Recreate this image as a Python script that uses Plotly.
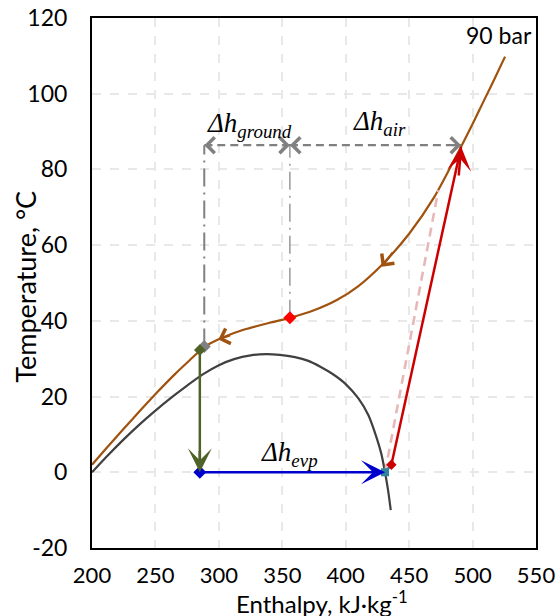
import plotly.graph_objects as go

# Saturation dome (h in kJ/kg, T in °C)
dome_h = [200, 212, 225, 238, 250, 262, 275, 287, 300, 312, 325, 337, 348, 360, 370, 380, 390, 400, 410, 418, 424, 428, 431, 433.5, 435.5]
dome_T = [0, 4.3, 8.7, 12.8, 16.3, 19.6, 22.9, 25.8, 28.3, 29.9, 30.9, 31.2, 31.0, 30.4, 29.5, 27.9, 25.9, 23.3, 19.5, 15.0, 9.5, 5.0, 0, -5, -10]

# 90 bar isobar
iso_h = [200, 212, 225, 238, 251, 265, 277, 289, 303, 320, 340, 356, 375, 393, 410, 430, 450, 470, 490, 500, 510, 518, 525.6]
iso_T = [2.0, 6.6, 11.5, 16.3, 21.0, 25.8, 29.6, 33.2, 35.6, 37.7, 39.5, 40.8, 42.8, 45.5, 49.2, 55.3, 63.0, 72.8, 85.4, 92.0, 98.9, 104.4, 109.8]

# Cycle state points
gc_in = (491, 86)          # compressor outlet
mid_pt = (356, 40.8)       # ground / air boundary
ground_out = (288.5, 33.2)
valve_in = (285, 32.3)
evap_in = (285, 0)
evap_out = (431, 0)
comp_in = (436, 2)
isen_out = (473, 74.5)
dh_level = 86.4

x_ticks = [200, 250, 300, 350, 400, 450, 500, 550]
y_ticks = [-20, 0, 20, 40, 60, 80, 100, 120]
labels = {"ground": "ground", "air": "air", "evp": "evp"}

BROWN = "#A0520F"
FONT = "Lato"
fig = go.Figure()

fig.add_trace(go.Scatter(x=dome_h, y=dome_T, mode="lines",
                         line=dict(color="#404040", width=2.2, shape="spline", smoothing=0.7)))
fig.add_trace(go.Scatter(x=iso_h, y=iso_T, mode="lines",
                         line=dict(color=BROWN, width=2.2, shape="spline", smoothing=0.7)))

# isentropic (dashed pink)
fig.add_trace(go.Scatter(x=[evap_out[0], isen_out[0]], y=[evap_out[1], isen_out[1]], mode="lines",
                         line=dict(color="#E6B9B8", width=2.6, dash="9px,6px")))
# compressor real line
fig.add_trace(go.Scatter(x=[comp_in[0], gc_in[0]], y=[comp_in[1], gc_in[1]], mode="lines",
                         line=dict(color="#CC0000", width=2.5)))
# teal small link
fig.add_trace(go.Scatter(x=[evap_out[0], comp_in[0]], y=[evap_out[1], comp_in[1]], mode="lines",
                         line=dict(color="#31859C", width=2.5)))
# expansion (green)
fig.add_trace(go.Scatter(x=[valve_in[0], evap_in[0]], y=[valve_in[1], evap_in[1]], mode="lines",
                         line=dict(color="#4F6228", width=2.5)))
# evaporation (blue)
fig.add_trace(go.Scatter(x=[evap_in[0], evap_out[0]], y=[evap_in[1], evap_out[1]], mode="lines",
                         line=dict(color="#0000CC", width=2.5)))

# vertical dash-dot lines
fig.add_trace(go.Scatter(x=[ground_out[0], ground_out[0]], y=[ground_out[1], dh_level], mode="lines",
                         line=dict(color="#808080", width=2, dash="18px,6px,2px,6px")))
fig.add_trace(go.Scatter(x=[mid_pt[0], mid_pt[0]], y=[mid_pt[1], dh_level], mode="lines",
                         line=dict(color="#808080", width=1.2, dash="18px,6px,2px,6px")))
# horizontal dashed lines
fig.add_trace(go.Scatter(x=[ground_out[0], mid_pt[0]], y=[dh_level, dh_level], mode="lines",
                         line=dict(color="#808080", width=2.2, dash="8px,5px")))
fig.add_trace(go.Scatter(x=[mid_pt[0], gc_in[0]], y=[dh_level, dh_level], mode="lines",
                         line=dict(color="#808080", width=2.2, dash="8px,5px")))

# markers
fig.add_trace(go.Scatter(x=[mid_pt[0]], y=[mid_pt[1]], mode="markers", marker=dict(symbol="diamond", size=10, color="#FF0000")))
fig.add_trace(go.Scatter(x=[ground_out[0]], y=[ground_out[1]], mode="markers", marker=dict(symbol="diamond", size=10, color="#808080")))
fig.add_trace(go.Scatter(x=[valve_in[0]], y=[valve_in[1]], mode="markers", marker=dict(symbol="diamond", size=9, color="#4F6228")))
fig.add_trace(go.Scatter(x=[evap_in[0]], y=[evap_in[1]], mode="markers", marker=dict(symbol="diamond", size=10, color="#0000CC")))
fig.add_trace(go.Scatter(x=[comp_in[0]], y=[comp_in[1]], mode="markers", marker=dict(symbol="diamond", size=8, color="#CC0000")))
fig.add_trace(go.Scatter(x=[evap_out[0]], y=[evap_out[1]], mode="markers", marker=dict(symbol="square", size=8, color="#31859C")))

def head(tip, tail, color, style, size, width):
    return dict(x=tip[0], y=tip[1], ax=tail[0], ay=tail[1], xref="x", yref="y", axref="x", ayref="y",
                showarrow=True, arrowhead=style, arrowsize=size, arrowwidth=width, arrowcolor=color, text="")

anns = [
    head(gc_in, (489, 78), "#CC0000", 3, 1.6, 2.5),
    head(evap_in, (285, 6), "#4F6228", 3, 1.6, 2.5),
    head(evap_out, (420, 0), "#0000CC", 3, 1.6, 2.5),
    head((428.4, 54.3), (438, 58.5), BROWN, 4, 1.4, 2.2),
    head((299.6, 35.1), (310, 36.3), BROWN, 4, 1.4, 2.2),
    head((ground_out[0], dh_level), (296, dh_level), "#808080", 4, 1.4, 2.2),
    head((mid_pt[0], dh_level), (349, dh_level), "#808080", 4, 1.4, 2.2),
    head((mid_pt[0], dh_level), (363, dh_level), "#808080", 4, 1.4, 2.2),
    head((gc_in[0], dh_level), (483, dh_level), "#808080", 4, 1.4, 2.2),
]

dfont = dict(family="Liberation Serif", size=27, color="black")
anns += [
    dict(x=324, y=91.8, xref="x", yref="y", showarrow=False, font=dfont,
         text="<i>Δh</i><sub><i>" + labels["ground"] + "</i></sub>"),
    dict(x=427, y=92.2, xref="x", yref="y", showarrow=False, font=dfont,
         text="<i>Δh</i><sub><i>" + labels["air"] + "</i></sub>"),
    dict(x=356, y=4.8, xref="x", yref="y", showarrow=False, font=dfont,
         text="<i>Δh</i><sub><i>" + labels["evp"] + "</i></sub>"),
    dict(x=520.5, y=115.4, xref="x", yref="y", showarrow=False,
         font=dict(family=FONT, size=23, color="black"), text="90 bar"),
    # axis titles
    dict(x=0.518, y=-0.1015, xref="paper", yref="paper", showarrow=False, xanchor="center", yanchor="middle",
         font=dict(family=FONT, size=24, color="black"), text="Enthalpy, kJ·kg<sup>-1</sup>"),
    dict(x=-0.1486, y=0.493, xref="paper", yref="paper", showarrow=False, textangle=-90,
         xanchor="center", yanchor="middle",
         font=dict(family=FONT, size=27, color="black"), text="Temperature, °C"),
]
fig.update_layout(annotations=anns)

axis_common = dict(showline=True, linecolor="black", linewidth=2, mirror=True, automargin=False,
                   showgrid=True, gridcolor="#E8E8E8", gridwidth=1.5, griddash="dash",
                   zeroline=False, ticks="", ticklabeloverflow="allow")

fig.update_xaxes(range=[200, 550], tickmode="array", tickvals=x_ticks, ticktext=[str(v) for v in x_ticks],
                 ticklabelstandoff=7, tickfont=dict(family=FONT, size=22, color="black"), **axis_common)
fig.update_yaxes(range=[-20, 120], tickmode="array", tickvals=y_ticks, ticktext=[str(v) for v in y_ticks],
                 ticklabelstandoff=18, tickfont=dict(family=FONT, size=23, color="black"), **axis_common)

fig.update_layout(width=560, height=616, margin=dict(l=92, r=24, t=18, b=68),
                  plot_bgcolor="white", paper_bgcolor="white", showlegend=False)

# remove the page's default body margin so the figure sits at the window origin
fig.write_html("out.html", config={"displayModeBar": False},
               post_script="document.body.style.margin='0px';document.body.style.overflow='hidden';")
